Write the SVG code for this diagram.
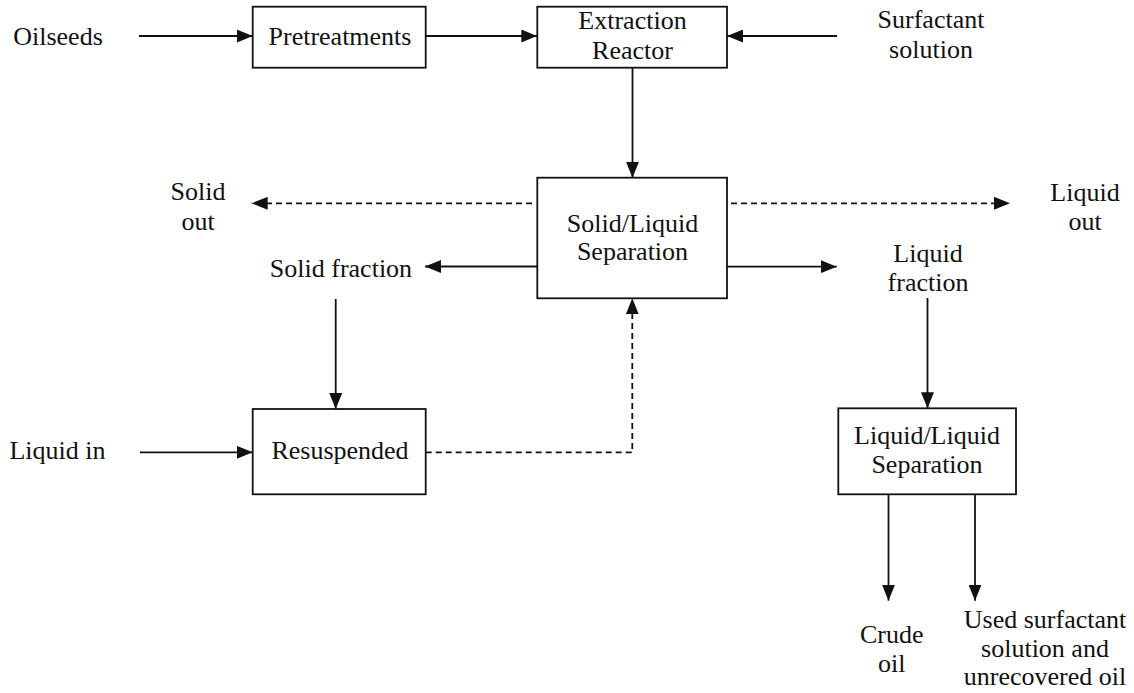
<svg xmlns="http://www.w3.org/2000/svg" width="1134" height="693" viewBox="0 0 1134 693">
<style>
text{font-family:"Liberation Serif","Times New Roman",serif;font-size:26px;fill:#111;text-anchor:middle}
.box{fill:#fff;stroke:#111;stroke-width:1.8}
.ln{fill:none;stroke:#111;stroke-width:1.8}
.dash{stroke-dasharray:6,4}
</style>
<defs>
<marker id="ah" viewBox="0 0 16 13" refX="16" refY="6.5" markerWidth="16" markerHeight="13" markerUnits="userSpaceOnUse" orient="auto"><path d="M0,0 L16,6.5 L0,13 z" fill="#111"/></marker>
</defs>
<rect width="1134" height="693" fill="#fff"/>
<g id="connectors">
<line class="ln" x1="139" y1="36" x2="252.7" y2="36" marker-end="url(#ah)"/>
<line class="ln" x1="425.7" y1="36" x2="537.3" y2="36" marker-end="url(#ah)"/>
<line class="ln" x1="837" y1="36" x2="727" y2="36" marker-end="url(#ah)"/>
<line class="ln" x1="632.5" y1="67.7" x2="632.5" y2="177.7" marker-end="url(#ah)"/>
<line class="ln dash" x1="532" y1="203.3" x2="251.7" y2="203.3" marker-end="url(#ah)"/>
<line class="ln dash" x1="731" y1="203.3" x2="1010" y2="203.3" marker-end="url(#ah)"/>
<line class="ln" x1="537.3" y1="266.5" x2="425" y2="266.5" marker-end="url(#ah)"/>
<line class="ln" x1="727" y1="266.7" x2="836.7" y2="266.7" marker-end="url(#ah)"/>
<line class="ln" x1="335.7" y1="299" x2="335.7" y2="409" marker-end="url(#ah)"/>
<line class="ln" x1="140" y1="452.3" x2="252.7" y2="452.3" marker-end="url(#ah)"/>
<polyline class="ln dash" points="425.7,452.3 632.3,452.3 632.3,298.3" marker-end="url(#ah)"/>
<line class="ln" x1="927.5" y1="298" x2="927.5" y2="408.3" marker-end="url(#ah)"/>
<line class="ln" x1="888.5" y1="494.3" x2="888.5" y2="600.7" marker-end="url(#ah)"/>
<line class="ln" x1="975" y1="494.3" x2="975" y2="600.7" marker-end="url(#ah)"/>
</g>
<g id="oilseeds"><text x="58" y="45">Oilseeds</text></g>
<g id="pretreatments"><rect class="box" x="252.7" y="6.7" width="173" height="61"/><text x="340" y="45">Pretreatments</text></g>
<g id="extraction-reactor"><rect class="box" x="537.3" y="6.7" width="189.7" height="61"/><text x="632.5" y="29.3">Extraction</text><text x="632.5" y="59.3">Reactor</text></g>
<g id="surfactant-solution"><text x="931" y="28.3">Surfactant</text><text x="931" y="58.3">solution</text></g>
<g id="solid-liquid-separation"><rect class="box" x="537.3" y="177.7" width="189.7" height="120.6"/><text x="632.5" y="231.5">Solid/Liquid</text><text x="632.5" y="260">Separation</text></g>
<g id="solid-out"><text x="198" y="200">Solid</text><text x="198" y="230">out</text></g>
<g id="liquid-out"><text x="1085" y="201">Liquid</text><text x="1085" y="230">out</text></g>
<g id="solid-fraction"><text x="341" y="277">Solid fraction</text></g>
<g id="liquid-fraction"><text x="928" y="261.7">Liquid</text><text x="928" y="290.7">fraction</text></g>
<g id="liquid-in"><text x="57.5" y="459">Liquid in</text></g>
<g id="resuspended"><rect class="box" x="252.7" y="409" width="173" height="85.3"/><text x="340" y="459">Resuspended</text></g>
<g id="liquid-liquid-separation"><rect class="box" x="838.3" y="408.3" width="177.7" height="86"/><text x="927" y="444">Liquid/Liquid</text><text x="927" y="472.7">Separation</text></g>
<g id="crude-oil"><text x="891.7" y="643.3">Crude</text><text x="891.7" y="671.7">oil</text></g>
<g id="used-surfactant"><text x="1045" y="628.3">Used surfactant</text><text x="1045" y="656.7">solution and</text><text x="1045" y="685">unrecovered oil</text></g>
</svg>
